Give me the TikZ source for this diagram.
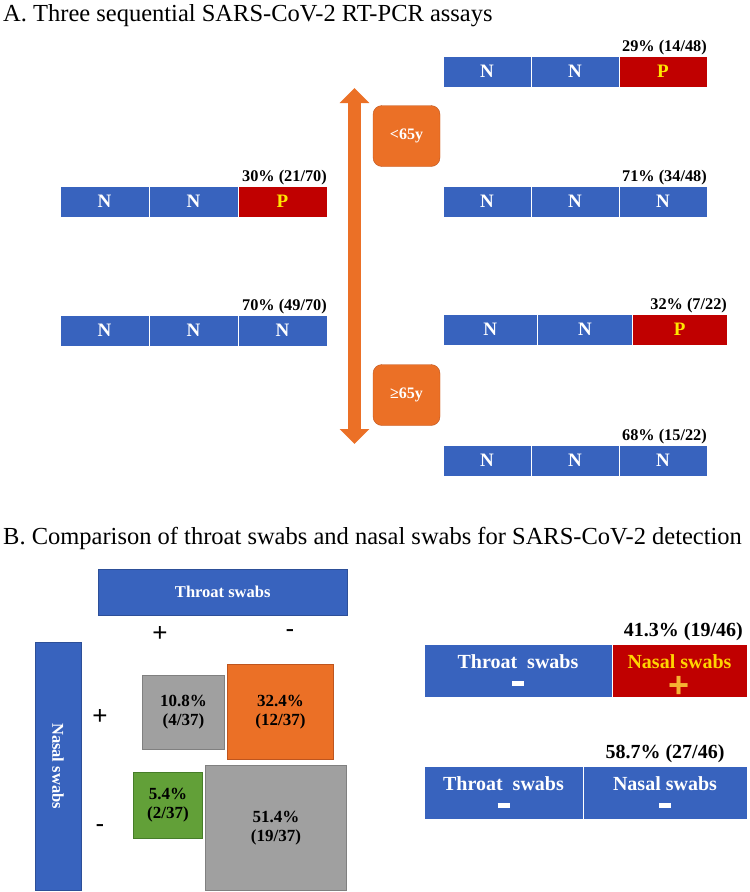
\documentclass[tikz,border=0pt]{standalone}
\usepackage{fontspec}
\setmainfont{Liberation Serif}
\setsansfont{Liberation Sans}
\usetikzlibrary{positioning,arrows.meta}

\definecolor{barblue}{RGB}{56,99,190}
\definecolor{posred}{RGB}{192,0,0}
\definecolor{agecol}{RGB}{235,112,38}
\definecolor{agedark}{RGB}{190,85,30}
\definecolor{cellgray}{RGB}{160,160,160}
\definecolor{graydark}{RGB}{128,128,128}
\definecolor{cellgreen}{RGB}{98,160,56}
\definecolor{greendark}{RGB}{70,125,40}
\definecolor{pyellow}{RGB}{255,230,0}
\definecolor{nyellow}{RGB}{255,212,0}
\definecolor{plusorange}{RGB}{245,178,50}
\newcommand{\negbar}{\rule{12pt}{5pt}}
\newcommand{\posplus}{\raisebox{-12pt}[0pt][0pt]{\color{plusorange}\fontsize{36}{12}\sffamily\bfseries +}}

\begin{document}
\begin{tikzpicture}[x=1pt, y=-1pt,
    title/.style={font=\fontsize{24.5}{24.5}\selectfont, inner sep=0pt},
    cell/.style={rectangle, draw=white, line width=0.8pt, fill=barblue, minimum height=31pt, inner sep=0pt, outer sep=0pt, text=white, font=\fontsize{19}{19}\selectfont\bfseries},
    poscell/.style={cell, fill=posred, text=pyellow},
    pct/.style={inner sep=0pt, font=\fontsize{16.3}{16}\selectfont\bfseries},
    agearrow/.style={arrows={Triangle[width=29pt,length=15pt]-Triangle[width=29pt,length=15pt]}, line width=13pt, draw=agecol},
    badge/.style={rectangle, rounded corners=9pt, fill=agecol, draw=agedark, minimum width=67pt, minimum height=61pt, text=white, font=\fontsize{16}{16}\selectfont\bfseries},
    hdr/.style={rectangle, fill=barblue, draw=barblue!80!black, line width=0.5pt, inner sep=0pt, text=white, font=\fontsize{16.5}{16}\selectfont\bfseries},
    sign/.style={inner sep=0pt, font=\fontsize{26}{26}\sffamily},
    mbox/.style={rectangle, line width=1pt, inner sep=0pt, align=center, font=\fontsize{17}{19}\selectfont\bfseries},
    rcell/.style={rectangle, draw=white, line width=0.8pt, fill=barblue, minimum height=53pt, inner sep=0pt, outer sep=0pt, align=center, text=white, font=\fontsize{20}{20}\selectfont\bfseries},
    rpct/.style={inner sep=0pt, font=\fontsize{20}{20}\selectfont\bfseries},
]
\useasboundingbox (0,0) rectangle (750,892);

% A: three sequential assays
\node[title, anchor=base west] (titleA) at (3,21) {A. Three sequential SARS-CoV-2 RT-PCR assays};

\node[cell, minimum width=89pt, anchor=north west] (l1a) at (60,186) {N};
\node[cell, minimum width=89pt, right=0pt of l1a] (l1b) {N};
\node[poscell, minimum width=89pt, right=0pt of l1b] (l1c) {P};
\node[pct, above left=1pt and 0pt of l1c.north east] (l1lab) {30\% (21/70)};

\node[cell, minimum width=89pt, anchor=north west] (l2a) at (60,315) {N};
\node[cell, minimum width=89pt, right=0pt of l2a] (l2b) {N};
\node[cell, minimum width=89pt, right=0pt of l2b] (l2c) {N};
\node[pct, above left=1pt and 0pt of l2c.north east] (l2lab) {70\% (49/70)};

\node[cell, minimum width=88pt, anchor=north west] (r1a) at (443,56) {N};
\node[cell, minimum width=88pt, right=0pt of r1a] (r1b) {N};
\node[poscell, minimum width=88pt, right=0pt of r1b] (r1c) {P};
\node[pct, above left=1pt and 0pt of r1c.north east] (r1lab) {29\% (14/48)};

\node[cell, minimum width=88pt, anchor=north west] (r2a) at (443,186) {N};
\node[cell, minimum width=88pt, right=0pt of r2a] (r2b) {N};
\node[cell, minimum width=88pt, right=0pt of r2b] (r2c) {N};
\node[pct, above left=1pt and 0pt of r2c.north east] (r2lab) {71\% (34/48)};

\node[cell, minimum width=94.7pt, anchor=north west] (r3a) at (443,314) {N};
\node[cell, minimum width=94.7pt, right=0pt of r3a] (r3b) {N};
\node[poscell, minimum width=94.7pt, right=0pt of r3b] (r3c) {P};
\node[pct, above left=1pt and 0pt of r3c.north east] (r3lab) {32\% (7/22)};

\node[cell, minimum width=88pt, anchor=north west] (r4a) at (443,445) {N};
\node[cell, minimum width=88pt, right=0pt of r4a] (r4b) {N};
\node[cell, minimum width=88pt, right=0pt of r4b] (r4c) {N};
\node[pct, above left=1pt and 0pt of r4c.north east] (r4lab) {68\% (15/22)};

% age split
\coordinate (agetop) at (354.5,88);
\coordinate (agebot) at (354.5,444);
\draw[agearrow] (agetop) -- (agebot);
\node[badge] (young) at (406.5,136) {<65y};
\node[badge] (old) at (406.5,395) {≥65y};

% B: throat vs nasal
\node[title, anchor=base west] (titleB) at (3,544) {B. Comparison of throat swabs and nasal swabs for SARS-CoV-2 detection};

\node[hdr, minimum width=249pt, minimum height=46pt, anchor=north west] (throat) at (98,569) {Throat swabs};
\node[sign] (tpos) at (160,634) {+};
\node[sign] (tneg) at (290,634) {-};
\node[hdr, rotate=-90, minimum width=248pt, minimum height=46pt] (nasal) at (58,766) {Nasal swabs};
\node[sign] (npos) at (100,717) {+};
\node[sign] (nneg) at (100,829) {-};

\node[mbox, fill=cellgray, draw=graydark, minimum width=82pt, minimum height=74pt, anchor=north west] (pp) at (142,675) {10.8\%\\(4/37)};
\node[mbox, fill=agecol, draw=agedark, minimum width=106pt, minimum height=95pt, anchor=north west] (np) at (227,664) {32.4\%\\(12/37)};
\node[mbox, fill=cellgreen, draw=greendark, minimum width=69pt, minimum height=66pt, anchor=north west] (pn) at (133,772) {5.4\%\\(2/37)};
\node[mbox, fill=cellgray, draw=graydark, minimum width=141pt, minimum height=125pt, anchor=north west] (nn) at (205,765) {51.4\%\\(19/37)};

\node[rcell, minimum width=188pt, anchor=north west] (thr1) at (424,644) {Throat\enspace swabs\\[-2pt]\negbar};
\node[rcell, fill=posred, text=nyellow, minimum width=135pt, right=0pt of thr1] (nas1) {Nasal swabs\\[-3pt]\posplus};
\node[rpct, above left=3pt and 4pt of nas1.north east] (lab1) {41.3\% (19/46)};

\node[rcell, minimum width=159pt, anchor=north west] (thr2) at (424,766) {Throat\enspace swabs\\[-2pt]\negbar};
\node[rcell, minimum width=164pt, right=0pt of thr2] (nas2) {Nasal swabs\\[-2pt]\negbar};
\node[rpct, above=3pt of nas2] (lab2) {58.7\% (27/46)};
\end{tikzpicture}
\end{document}
